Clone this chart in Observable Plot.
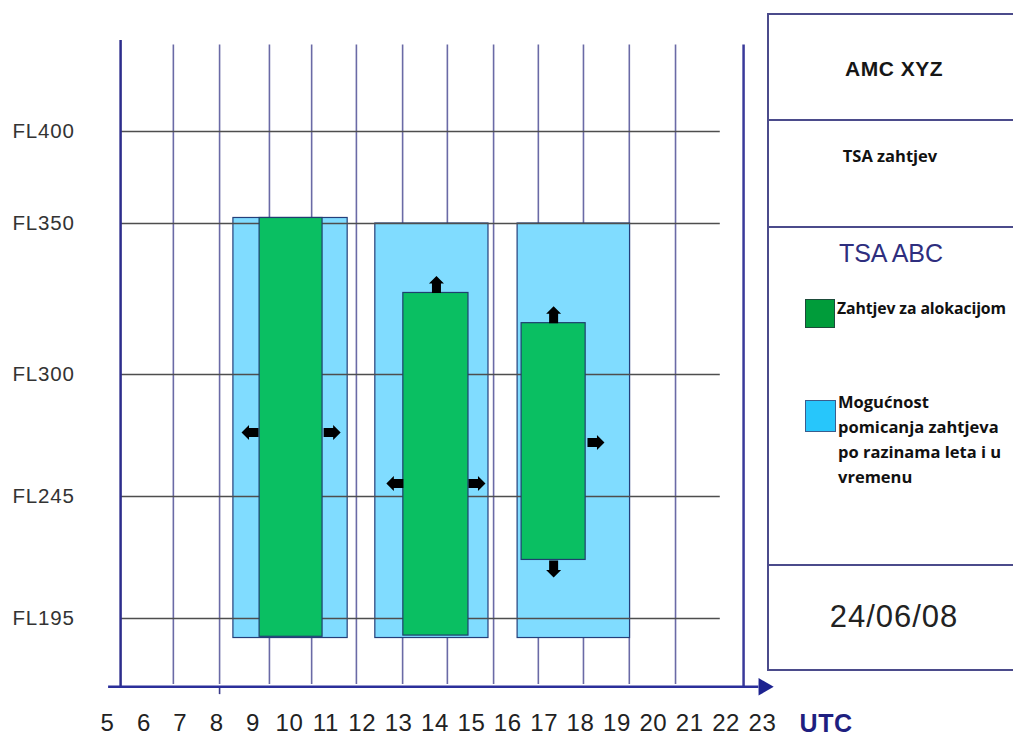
<!DOCTYPE html>
<html>
<head>
<meta charset="utf-8">
<script src="https://cdn.jsdelivr.net/npm/d3@7"></script>
<script src="https://cdn.jsdelivr.net/npm/@observablehq/plot@0.6"></script>
<style>
  html, body { margin: 0; padding: 0; background: #fff; }
  #wrap { position: relative; width: 1013px; height: 736px; overflow: hidden; font-family: "Liberation Sans", Arial, sans-serif; }
  #chart { position: absolute; left: 0; top: 0; }
  #panel { position: absolute; left: 767px; top: 13px; width: 320px; height: 658px; box-sizing: border-box;
           border: 2px solid #4b4b8b; border-right: none; }
  .div { position: absolute; left: 767px; width: 320px; height: 0; border-top: 2px solid #4b4b8b; }
  .c { position: absolute; transform: translate(-50%, -50%); white-space: nowrap; }
  .ob { font-family: "Open Sans", "Noto Sans", sans-serif; font-weight: 700; font-size: 16.5px; color: #111; }
  .sw { position: absolute; box-sizing: border-box; }
</style>
</head>
<body>
<div id="wrap">
  <div id="chart"></div>
  <div id="panel"></div>
  <div class="div" style="top:119px"></div>
  <div class="div" style="top:226px"></div>
  <div class="div" style="top:564px"></div>
  <div class="c" style="left:894px; top:69px; font-weight:700; font-size:21px; letter-spacing:0.5px; color:#161616;">AMC XYZ</div>
  <div class="c ob" style="left:890px; top:155px;">TSA zahtjev</div>
  <div class="c" style="left:891px; top:253px; font-size:25px; color:#2e2e7e;">TSA ABC</div>
  <div class="sw" style="left:805px; top:299px; width:30px; height:29px; background:#009c3a; border:1.5px solid #1d4b3a;"></div>
  <div class="ob" style="position:absolute; left:837px; top:296px; white-space:nowrap; line-height:25px; font-size:15.8px; letter-spacing:-0.1px;">Zahtjev za alokacijom</div>
  <div class="sw" style="left:805px; top:400px; width:31px; height:32px; background:#27c6fb; border:1.5px solid #3a5d8d;"></div>
  <div class="ob" style="position:absolute; left:838px; top:389px; white-space:nowrap; line-height:25px;">Mogućnost<br>pomicanja zahtjeva<br>po razinama leta i u<br>vremenu</div>
  <div class="c" style="left:894px; top:617px; font-size:31px; letter-spacing:1px; color:#222;">24/06/08</div>
</div>
<script>
// ---- data ----
const hours = [5, 6, 7, 8, 9, 10, 11, 12, 13, 14, 15, 16, 17, 18, 19, 20, 21, 22, 23];   // UTC tick labels
const levels = [195, 245, 300, 350, 400];                                                 // flight levels
const levelNames = ["FL195", "FL245", "FL300", "FL350", "FL400"];
// vertical grid lines (in hours on the label scale)
const vGrid = [6.81, 8.08, 9.45, 10.61, 11.84, 13.11, 14.34, 15.61, 16.84, 18.08, 19.34, 20.61];
const leftAxisHour = 5.36;
const rightLineHour = 22.48;
const hGridEndHour = 21.84;
const axisStartHour = 5.03;
const axisEndHour = 22.9;
const arrowHeadHour = 23.03;
const tickBelowHour = 8.08;
const gridTopFL = 447;
const axisTopFL = 449.5;
const gridBottomFL = 168;
const axisFL = 167;
const tickBelowFL = 163.8;

// possible shift of the request (blue)
const flexStart = [8.46, 12.36, 16.27];
const flexEnd   = [11.60, 15.47, 19.36];
const flexLow   = [187, 187, 187];
const flexHigh  = [353, 350, 350];
// allocation request (green)
const reqStart = [9.18, 13.13, 16.38];
const reqEnd   = [10.91, 14.92, 18.14];
const reqLow   = [187.5, 188, 219];
const reqHigh  = [353, 327, 317];
// movement arrows: position (hour, FL) and direction (deg clockwise from up)
const moveHour = [9.15, 10.94, 13.13, 14.92, 14.04, 17.26, 18.19, 17.26];
const moveFL   = [273.9, 273.9, 250.9, 250.9, 327, 317, 269.3, 218.8];
const moveDir  = [270, 90, 270, 90, 0, 0, 90, 180];

const flex = flexStart.map((s, i) => ({start: s, end: flexEnd[i], low: flexLow[i], high: flexHigh[i]}));
const req = reqStart.map((s, i) => ({start: s, end: reqEnd[i], low: reqLow[i], high: reqHigh[i]}));
const moves = moveHour.map((h, i) => ({hour: h, fl: moveFL[i], dir: moveDir[i]}));

// block arrow symbol: base at origin, pointing up
const blockArrow = {
  draw(ctx) {
    const L = 17, hw = 7.5, sw = 4.5, hl = 7.5;
    ctx.moveTo(-sw, 0);
    ctx.lineTo(-sw, -(L - hl));
    ctx.lineTo(-hw, -(L - hl));
    ctx.lineTo(0, -L);
    ctx.lineTo(hw, -(L - hl));
    ctx.lineTo(sw, -(L - hl));
    ctx.lineTo(sw, 0);
    ctx.closePath();
  }
};

const chart = Plot.plot({
  width: 1013,
  height: 736,
  margin: 0,
  style: {fontFamily: "'Liberation Sans', Arial, sans-serif", background: "transparent"},
  x: {type: "linear", domain: [5, 23], range: [107, 762], axis: null},
  y: {type: "linear", domain: levels, range: [618, 496, 374, 223, 131], axis: null},
  marks: [
    Plot.ruleX(vGrid, {x: d => d, y1: gridTopFL, y2: gridBottomFL, stroke: "#6a6aa6", strokeWidth: 1.6}),
    Plot.ruleX([tickBelowHour], {x: d => d, y1: axisFL, y2: tickBelowFL, stroke: "#3a3a8a", strokeWidth: 1.6}),
    Plot.ruleX([rightLineHour], {x: d => d, y1: gridTopFL, y2: axisFL, stroke: "#3a3a9a", strokeWidth: 2.5}),
    Plot.rect(flex, {x1: "start", x2: "end", y1: "low", y2: "high", fill: "#80dcff", stroke: "#243f7a", strokeWidth: 1.2}),
    Plot.ruleY(levels, {y: d => d, x1: leftAxisHour, x2: hGridEndHour, stroke: "#4e4e4e", strokeWidth: 1.5}),
    Plot.rect(req, {x1: "start", x2: "end", y1: "low", y2: "high", fill: "#0abf62", stroke: "#1f3f6f", strokeWidth: 1.2}),
    Plot.dot(moves, {x: "hour", y: "fl", rotate: "dir", symbol: blockArrow, fill: "#000", stroke: "none"}),
    Plot.ruleX([leftAxisHour], {x: d => d, y1: axisTopFL, y2: axisFL, stroke: "#2d2d8c", strokeWidth: 2.5}),
    Plot.ruleY([axisFL], {y: d => d, x1: axisStartHour, x2: axisEndHour, stroke: "#2b2f9a", strokeWidth: 2.5}),
    Plot.dot([arrowHeadHour], {x: d => d, y: axisFL, symbol: "triangle", rotate: 90, r: 6.5, fill: "#1d2290", stroke: "none"}),
    Plot.text(levels, {y: d => d, text: (d, i) => levelNames[i], frameAnchor: "left", dx: 12, textAnchor: "start", fontSize: 20.5, fill: "#333"}),
    Plot.text(hours, {x: d => d, text: d => String(d), frameAnchor: "bottom", dy: -13, lineAnchor: "middle", fontSize: 24, fill: "#222"}),
    Plot.text(["UTC"], {frameAnchor: "bottom-right", dx: -161, dy: -13, lineAnchor: "middle", textAnchor: "end", fontSize: 25, fontWeight: "bold", fill: "#1f1f80"})
  ]
});
document.getElementById("chart").appendChild(chart);
// slight letter spacing to match the stretched original
const textGroups = d3.select(chart).selectAll('g[aria-label="text"]').nodes();
const spacing = [0.8, 0.6, 0.5];
textGroups.forEach((g, i) => d3.select(g).selectAll("text").attr("letter-spacing", spacing[i] ?? 0));
</script>
</body>
</html>
